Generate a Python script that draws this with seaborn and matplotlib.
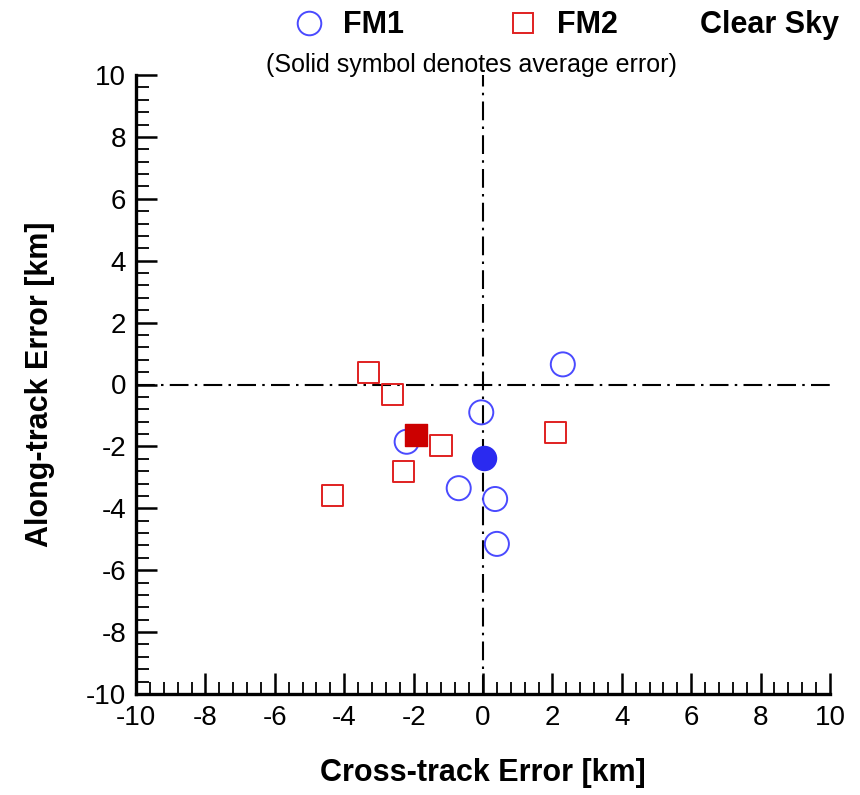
import matplotlib
matplotlib.use("Agg")
import matplotlib.pyplot as plt
from matplotlib.lines import Line2D
from matplotlib.ticker import MultipleLocator, AutoMinorLocator
import seaborn as sns
import pandas as pd

# Data
fm1_x = [2.30, -0.05, -2.20, -0.70, 0.35, 0.40]
fm1_y = [0.65, -0.90, -1.85, -3.35, -3.70, -5.15]
fm2_x = [-3.29, -2.60, -1.21, 2.10, -2.30, -4.35]
fm2_y = [0.39, -0.32, -1.97, -1.55, -2.82, -3.60]
series_names = ["FM1", "FM2"]

df = pd.DataFrame({
    "x": fm1_x + fm2_x,
    "y": fm1_y + fm2_y,
    "series": ["FM1"] * len(fm1_x) + ["FM2"] * len(fm2_x),
})
avg = df.groupby("series", as_index=False)[["x", "y"]].mean()

sns.set_style("ticks")
plt.rcParams["font.family"] = ["Liberation Sans", "DejaVu Sans"]
plt.rcParams["axes.unicode_minus"] = False
for k in ["text.color", "axes.labelcolor", "xtick.color", "ytick.color", "axes.edgecolor"]:
    plt.rcParams[k] = "black"

fig = plt.figure(figsize=(8.6, 7.95), dpi=100)
ax = fig.add_axes([136 / 860, 1 - 694 / 795, (830 - 136) / 860, (694 - 75) / 795])

blue_o = "#4a4aff"
blue_f = "#2a2af0"
red_o = "#e02020"
red_f = "#cc0000"

# reference lines
dashdot = (0, (9, 3, 1.2, 3))
ax.axhline(0, color="black", lw=1.5, ls=dashdot, zorder=1)
ax.axvline(0, color="black", lw=1.5, ls=dashdot, zorder=1)

sns.scatterplot(data=df[df.series == "FM1"], x="x", y="y", marker="o", s=300,
                facecolor="none", edgecolor=blue_o, linewidth=1.4, ax=ax, zorder=3)
sns.scatterplot(data=df[df.series == "FM2"], x="x", y="y", marker="s", s=230,
                facecolor="none", edgecolor=red_o, linewidth=1.4, ax=ax, zorder=3)
sns.scatterplot(data=avg[avg.series == "FM1"], x="x", y="y", marker="o", s=300,
                color=blue_f, edgecolor=blue_f, linewidth=1, ax=ax, zorder=4)
sns.scatterplot(data=avg[avg.series == "FM2"], x="x", y="y", marker="s", s=230,
                color=red_f, edgecolor=red_f, linewidth=1, ax=ax, zorder=4)

ax.set_xlim(-10, 10)
ax.set_ylim(-10, 10)
ax.xaxis.set_major_locator(MultipleLocator(2))
ax.yaxis.set_major_locator(MultipleLocator(2))
ax.xaxis.set_minor_locator(AutoMinorLocator(5))
ax.yaxis.set_minor_locator(AutoMinorLocator(5))
ax.tick_params(which="major", direction="in", length=15, width=1.8, labelsize=20, pad=7)
ax.tick_params(which="minor", direction="in", length=9, width=1.3)
ax.tick_params(axis="x", which="major", pad=8)
for s in ["top", "right"]:
    ax.spines[s].set_visible(False)
for s in ["left", "bottom"]:
    ax.spines[s].set_linewidth(2.4)

ax.set_xlabel("Cross-track Error [km]", fontsize=22, fontweight="bold", labelpad=19)
ax.set_ylabel("Along-track Error [km]", fontsize=22, fontweight="bold", labelpad=22)

handles = [
    Line2D([], [], marker="o", ls="none", markersize=17, markerfacecolor="none",
           markeredgecolor=blue_o, markeredgewidth=1.4),
    Line2D([], [], marker="s", ls="none", markersize=15, markerfacecolor="none",
           markeredgecolor=red_o, markeredgewidth=1.4),
]
fig.legend(handles, series_names, loc="center", bbox_to_anchor=(0.53, 0.968), ncol=2,
           frameon=False, prop={"size": 22, "weight": "bold"}, columnspacing=3.4,
           handletextpad=0.6, handlelength=1.0)
fig.text(0.975, 0.968, "Clear Sky", ha="right", va="center", fontsize=22, fontweight="bold")
fig.text(0.548, 0.918, "(Solid symbol denotes average error)", ha="center", va="center", fontsize=18)

fig.savefig("out.png", dpi=100)
